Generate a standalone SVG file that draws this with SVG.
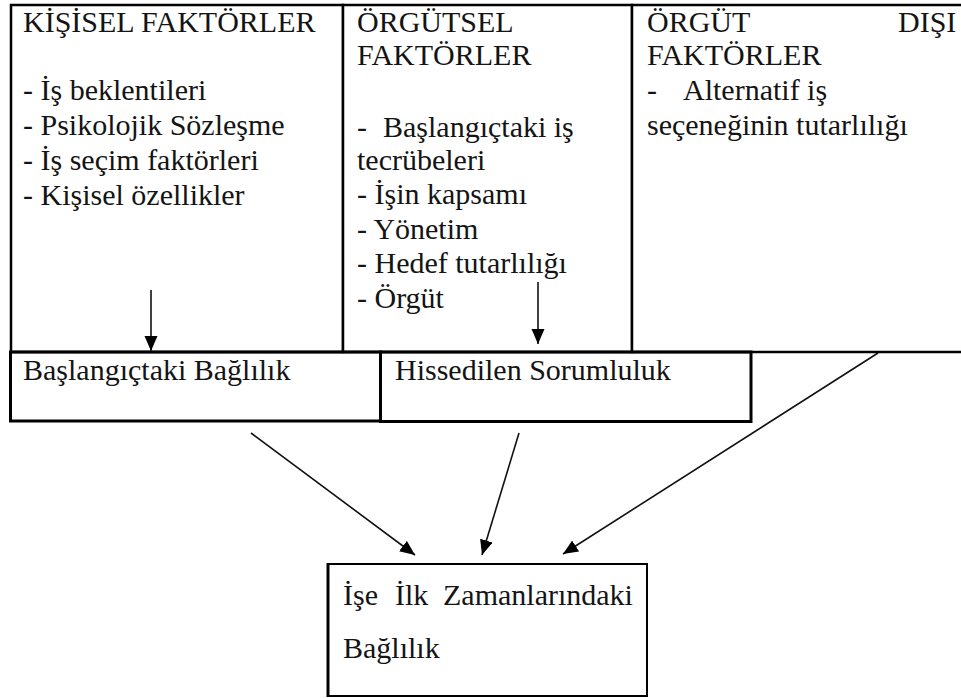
<svg xmlns="http://www.w3.org/2000/svg" width="961" height="698" viewBox="0 0 961 698">
  <style>
    .t { font-family: "Liberation Serif", serif; font-size: 30px; fill: #141414; }
    .cell { fill: #fff; stroke: #000; stroke-width: 2.5; }
    .box { fill: none; stroke: #000; stroke-width: 3; }
    .res { fill: #fff; stroke: #000; stroke-width: 2; }
    .arr { stroke: #111; stroke-width: 1.6; fill: none; marker-end: url(#ah); }
  </style>
  <defs>
    <marker id="ah" markerUnits="userSpaceOnUse" markerWidth="16" markerHeight="14" refX="15" refY="6.5" orient="auto">
      <path d="M0,0 L15,6.5 L0,13 z" fill="#000"/>
    </marker>
  </defs>
  <rect width="961" height="698" fill="#fff"/>

  <g id="kisisel">
    <rect class="cell" x="11" y="5" width="332" height="347"/>
    <text class="t" x="23" y="32">KİŞİSEL FAKTÖRLER</text>
    <text class="t" x="23" y="100">- İş beklentileri</text>
    <text class="t" x="23" y="135">- Psikolojik Sözleşme</text>
    <text class="t" x="23" y="170">- İş seçim faktörleri</text>
    <text class="t" x="23" y="205">- Kişisel özellikler</text>
  </g>

  <g id="orgutsel">
    <rect class="cell" x="343" y="5" width="289" height="347"/>
    <text class="t" x="357" y="32">ÖRGÜTSEL</text>
    <text class="t" x="357" y="65">FAKTÖRLER</text>
    <text class="t" x="357" y="137">-</text>
    <text class="t" x="383" y="137">Başlangıçtaki iş</text>
    <text class="t" x="357" y="170">tecrübeleri</text>
    <text class="t" x="357" y="204">- İşin kapsamı</text>
    <text class="t" x="357" y="239">- Yönetim</text>
    <text class="t" x="357" y="273">- Hedef tutarlılığı</text>
    <text class="t" x="357" y="308">- Örgüt</text>
  </g>

  <g id="orgutdisi">
    <rect class="cell" x="632" y="5" width="340" height="347"/>
    <text class="t" x="647" y="32">ÖRGÜT</text>
    <text class="t" x="898" y="32">DIŞI</text>
    <text class="t" x="647" y="65">FAKTÖRLER</text>
    <text class="t" x="647" y="100">-</text>
    <text class="t" x="683" y="100">Alternatif iş</text>
    <text class="t" x="647" y="135">seçeneğinin tutarlılığı</text>
  </g>

  <g id="baslangic">
    <rect class="box" x="10.5" y="352" width="370" height="69"/>
    <text class="t" x="23" y="380">Başlangıçtaki Bağlılık</text>
  </g>

  <g id="hissedilen">
    <rect class="box" x="380.5" y="352" width="370.5" height="69.5"/>
    <text class="t" x="395" y="380">Hissedilen Sorumluluk</text>
  </g>

  <g id="sonuc">
    <rect class="res" x="328" y="564" width="319" height="132"/>
    <line x1="328" y1="563" x2="328" y2="697" stroke="#000" stroke-width="3"/>
    <text class="t" x="343" y="605">İşe</text>
    <text class="t" x="395" y="605">İlk</text>
    <text class="t" x="443" y="605">Zamanlarındaki</text>
    <text class="t" x="343" y="658">Bağlılık</text>
  </g>

  <g id="connectors">
    <line class="arr" x1="151" y1="290" x2="151" y2="351"/>
    <line class="arr" x1="538" y1="282" x2="538" y2="344"/>
    <line class="arr" x1="251" y1="433" x2="415" y2="555"/>
    <line class="arr" x1="519" y1="433" x2="482" y2="555"/>
    <line class="arr" x1="878" y1="353" x2="563" y2="554"/>
  </g>
</svg>
